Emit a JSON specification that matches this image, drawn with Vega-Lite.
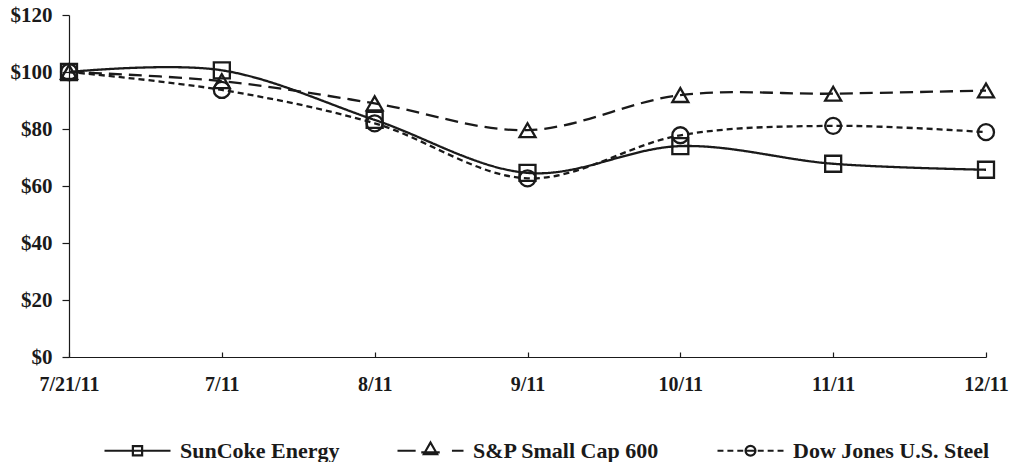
{
  "$schema": "https://vega.github.io/schema/vega-lite/v6.json",
  "width": 917,
  "height": 342,
  "autosize": {"type": "none"},
  "padding": {"left": 69, "top": 15, "right": 27, "bottom": 105},
  "background": "white",
  "config": {"view": {"stroke": null}, "font": "Liberation Serif"},
  "data": {
    "values": [
      {"date": "7/21/11", "series": "SunCoke Energy", "value": 100},
      {"date": "7/11", "series": "SunCoke Energy", "value": 100.6},
      {"date": "8/11", "series": "SunCoke Energy", "value": 83.2},
      {"date": "9/11", "series": "SunCoke Energy", "value": 64.6},
      {"date": "10/11", "series": "SunCoke Energy", "value": 74.0},
      {"date": "11/11", "series": "SunCoke Energy", "value": 67.8},
      {"date": "12/11", "series": "SunCoke Energy", "value": 65.7},
      {"date": "7/21/11", "series": "S&P Small Cap 600", "value": 100},
      {"date": "7/11", "series": "S&P Small Cap 600", "value": 96.8},
      {"date": "8/11", "series": "S&P Small Cap 600", "value": 89.0},
      {"date": "9/11", "series": "S&P Small Cap 600", "value": 79.6},
      {"date": "10/11", "series": "S&P Small Cap 600", "value": 91.9},
      {"date": "11/11", "series": "S&P Small Cap 600", "value": 92.4},
      {"date": "12/11", "series": "S&P Small Cap 600", "value": 93.5},
      {"date": "7/21/11", "series": "Dow Jones U.S. Steel", "value": 100},
      {"date": "7/11", "series": "Dow Jones U.S. Steel", "value": 93.7},
      {"date": "8/11", "series": "Dow Jones U.S. Steel", "value": 82.0},
      {"date": "9/11", "series": "Dow Jones U.S. Steel", "value": 62.7},
      {"date": "10/11", "series": "Dow Jones U.S. Steel", "value": 77.8},
      {"date": "11/11", "series": "Dow Jones U.S. Steel", "value": 81.1},
      {"date": "12/11", "series": "Dow Jones U.S. Steel", "value": 78.9}
    ]
  },
  "encoding": {
    "x": {
      "field": "date",
      "type": "ordinal",
      "sort": null,
      "scale": {"type": "point", "padding": 0},
      "axis": {
        "title": null,
        "labelAngle": 0,
        "labelFont": "Liberation Serif",
        "labelFontWeight": "bold",
        "labelFontSize": 20,
        "labelColor": "#1a1a1a",
        "domainColor": "#1a1a1a",
        "domainWidth": 1.2,
        "tickColor": "#1a1a1a",
        "tickWidth": 1.2,
        "tickSize": -5,
        "labelPadding": 22,
        "grid": false
      }
    },
    "y": {
      "field": "value",
      "type": "quantitative",
      "scale": {"domain": [0, 120], "nice": false, "zero": true},
      "axis": {
        "title": null,
        "values": [0, 20, 40, 60, 80, 100, 120],
        "labelExpr": "'$' + datum.value",
        "labelFont": "Liberation Serif",
        "labelFontWeight": "bold",
        "labelFontSize": 21,
        "labelColor": "#1a1a1a",
        "domainColor": "#1a1a1a",
        "domainWidth": 1.2,
        "tickColor": "#1a1a1a",
        "tickWidth": 1.2,
        "tickSize": 7,
        "labelPadding": 10,
        "grid": false
      }
    }
  },
  "layer": [
    {
      "mark": {"type": "line", "interpolate": "cardinal", "strokeWidth": 2.3, "color": "#1a1a1a"},
      "encoding": {
        "detail": {"field": "series", "type": "nominal"},
        "strokeDash": {
          "field": "series",
          "type": "nominal",
          "scale": {
            "domain": ["SunCoke Energy", "S&P Small Cap 600", "Dow Jones U.S. Steel"],
            "range": [[1, 0], [13, 7], [6, 4]]
          },
          "legend": null
        }
      }
    },
    {
      "mark": {"type": "point", "filled": false, "size": 256, "strokeWidth": 2.3, "color": "#1a1a1a", "opacity": 1},
      "encoding": {
        "shape": {
          "field": "series",
          "type": "nominal",
          "scale": {
            "domain": ["SunCoke Energy", "S&P Small Cap 600", "Dow Jones U.S. Steel"],
            "range": ["square", "triangle-up", "circle"]
          },
          "legend": null
        }
      }
    },
    {
      "mark": {"type": "point", "filled": false, "size": 10, "strokeWidth": 2, "color": "#1a1a1a", "opacity": 0},
      "encoding": {
        "shape": {
          "field": "series",
          "type": "nominal",
          "scale": {
            "domain": ["SunCoke Energy", "S&P Small Cap 600", "Dow Jones U.S. Steel"],
            "range": [
              "M-1,0H1M-0.14,-0.14H0.14V0.14H-0.14Z",
              "M-1,0H-0.45M0.65,0H1M-0.28,0.05H0.28M0,-0.25L0.2,0.1L-0.2,0.1Z",
              "M-1,0H-0.82M-0.7,0H-0.52M-0.4,0H-0.22M0.22,0H0.4M0.52,0H0.7M0.82,0H1M-0.15,0H0.15M-0.15,0A0.15,0.15 0 1,0 0.15,0A0.15,0.15 0 1,0 -0.15,0Z"
            ]
          },
          "legend": {
            "title": null,
            "orient": "none",
            "legendX": 34,
            "legendY": 401,
            "direction": "horizontal",
            "columns": 3,
            "padding": 0,
            "symbolSize": 4356,
            "symbolStrokeWidth": 2.2,
            "symbolStrokeColor": "#1a1a1a",
            "symbolFillColor": "transparent",
            "symbolOpacity": 1,
            "labelFont": "Liberation Serif",
            "labelFontWeight": "bold",
            "labelFontSize": 22,
            "labelColor": "#1a1a1a",
            "labelOffset": 8,
            "labelLimit": 400,
            "columnPadding": 53
          }
        }
      }
    }
  ],
  "resolve": {"scale": {"shape": "independent"}, "legend": {"shape": "independent"}}
}
